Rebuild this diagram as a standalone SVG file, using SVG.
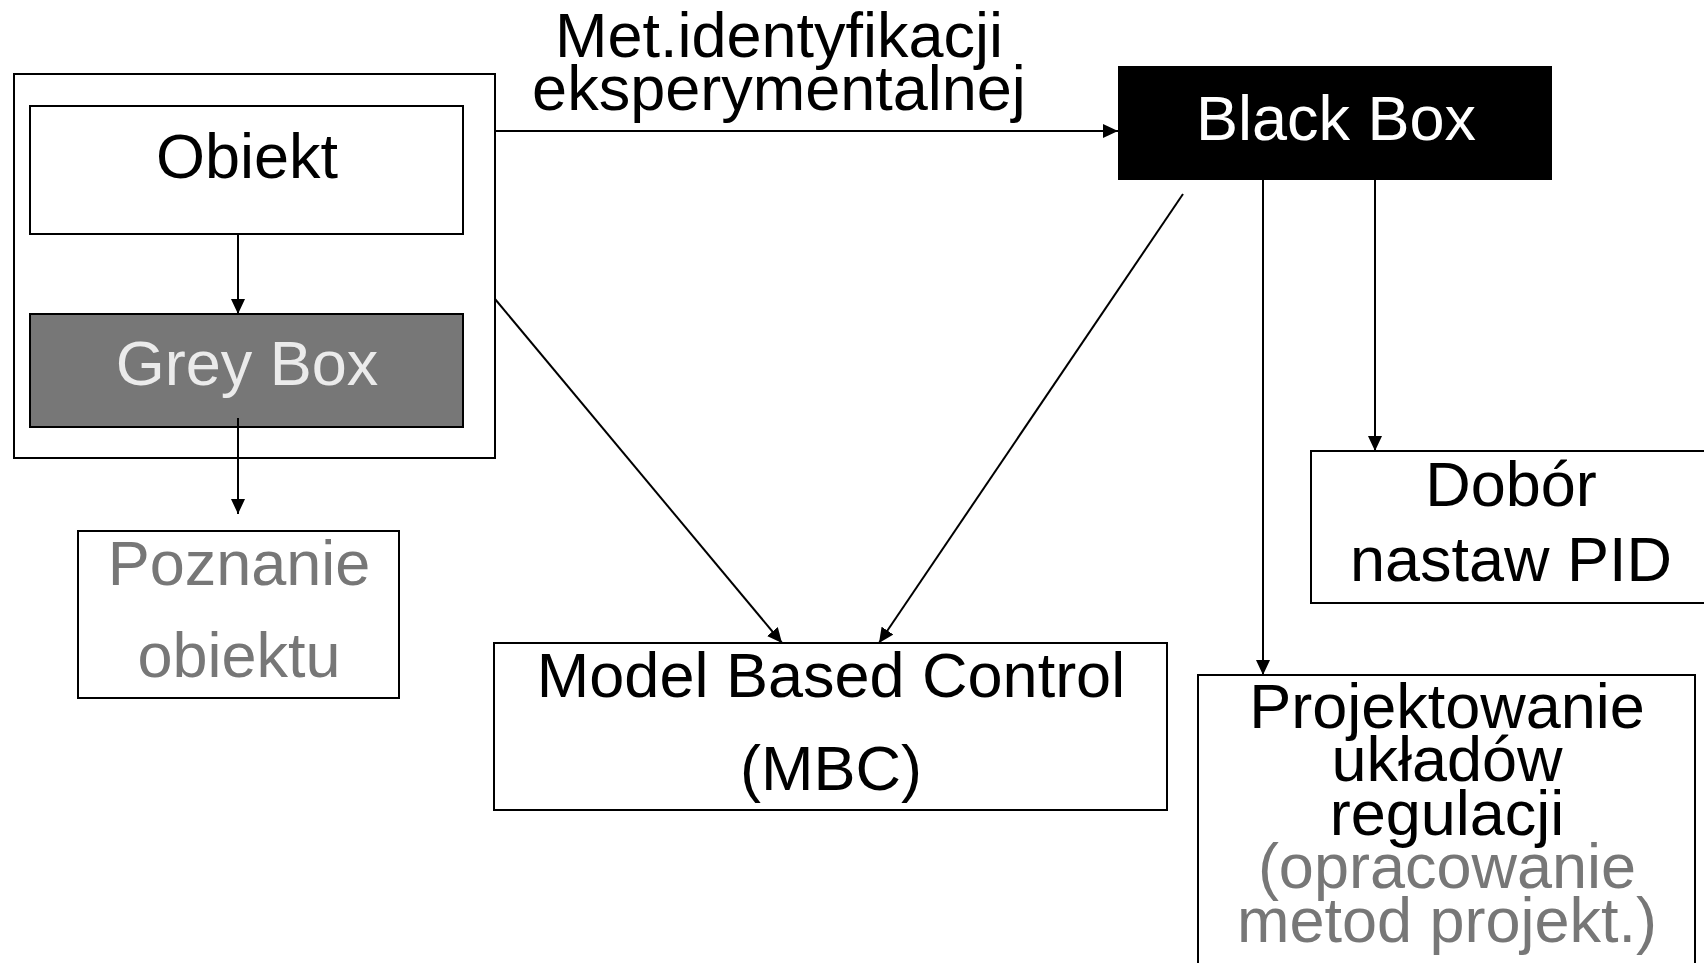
<svg xmlns="http://www.w3.org/2000/svg" width="1704" height="963" viewBox="0 0 1704 963">
<style>
text{font-family:"Liberation Sans",Arial,sans-serif;font-size:63px;text-anchor:middle;}
.box{fill:#fff;stroke:#000;stroke-width:2;}
.con{stroke:#000;stroke-width:2;fill:none;marker-end:url(#ah);}
.dark{fill:#000;}
.grey{fill:#777;}
.light{fill:#ebebeb;}
.white{fill:#fff;}
</style>
<defs>
<marker id="ah" markerUnits="userSpaceOnUse" markerWidth="16" markerHeight="14" refX="15" refY="7" orient="auto">
<path d="M0,0 L15,7 L0,14 Z" fill="#000"/>
</marker>
</defs>
<rect width="1704" height="963" fill="#fff"/>
<g id="outer"><rect class="box" x="14" y="74" width="481" height="384"/></g>
<g id="obiekt"><rect class="box" x="30" y="106" width="433" height="128"/><text class="dark" x="247" y="178">Obiekt</text></g>
<g id="greybox"><rect x="30" y="314" width="433" height="113" fill="#777" stroke="#000" stroke-width="2"/><text class="light" x="247" y="385">Grey Box</text></g>
<g id="poznanie"><rect class="box" x="78" y="531" width="321" height="167"/><text class="grey" x="239" y="585">Poznanie</text><text class="grey" x="239" y="677">obiektu</text></g>
<g id="blackbox"><rect x="1118" y="66" width="434" height="114" fill="#000"/><text class="white" x="1336" y="140">Black Box</text></g>
<g id="mbc"><rect class="box" x="494" y="643" width="673" height="167"/><text class="dark" x="831" y="697">Model Based Control</text><text class="dark" x="831" y="790">(MBC)</text></g>
<g id="dobor"><rect class="box" x="1311" y="451" width="410" height="152"/><text class="dark" x="1511" y="506">Dobór</text><text class="dark" x="1511" y="581">nastaw PID</text></g>
<g id="projekt"><rect class="box" x="1198" y="675" width="497" height="300"/>
<text class="dark" x="1447" y="728">Projektowanie</text>
<text class="dark" x="1447" y="781">układów</text>
<text class="dark" x="1447" y="835">regulacji</text>
<text class="grey" x="1447" y="888">(opracowanie</text>
<text class="grey" x="1447" y="942">metod projekt.)</text></g>
<g id="label"><text class="dark" x="779" y="57">Met.identyfikacji</text><text class="dark" x="779" y="110">eksperymentalnej</text></g>
<g id="connectors">
<line class="con" x1="238" y1="234" x2="238" y2="314"/>
<line class="con" x1="238" y1="418" x2="238" y2="514"/>
<line class="con" x1="495" y1="131" x2="1118" y2="131"/>
<line class="con" x1="495" y1="299" x2="782" y2="643"/>
<line class="con" x1="1183" y1="194" x2="879" y2="643"/>
<line class="con" x1="1263" y1="180" x2="1263" y2="675"/>
<line class="con" x1="1375" y1="180" x2="1375" y2="451"/>
</g>
</svg>
